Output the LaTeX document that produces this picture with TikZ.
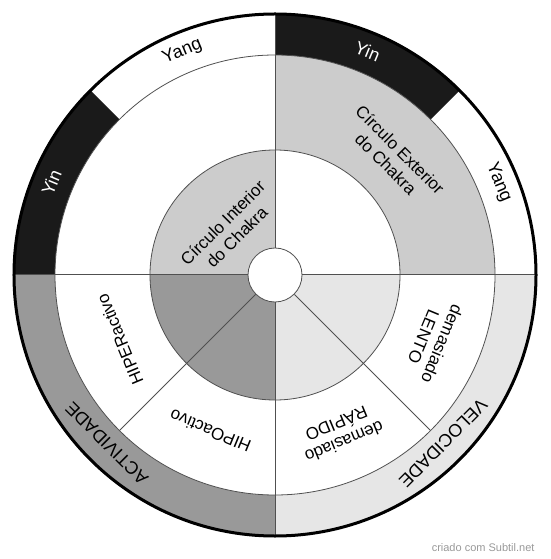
\documentclass[tikz,border=0pt]{standalone}
\usepackage{fontspec}
\setmainfont{Liberation Sans}
\usetikzlibrary{positioning}
\definecolor{chkblack}{RGB}{26,26,26}
\definecolor{chkdark}{RGB}{153,153,153}
\definecolor{chklight}{RGB}{204,204,204}
\definecolor{chkpale}{RGB}{230,230,230}
\definecolor{chkline}{RGB}{80,80,80}

\begin{document}
\begin{tikzpicture}[
    lbl/.style={font=\fontsize{17}{20}\selectfont, align=center, inner sep=0pt},
    yy/.style={lbl, font=\fontsize{18}{20}\selectfont},
    rim/.style={draw=chkline, line width=0.8pt},
    spoke/.style={draw=chkline, line width=1pt},
    hubnode/.style={circle, draw=chkline, line width=0.8pt, fill=white,
                    minimum size=54pt, inner sep=0pt}
]
\useasboundingbox (-275pt,-284pt) rectangle (275pt,275pt);

% outer band, ring and core
\foreach \a/\b/\c in {0/45/white, 45/90/chkblack, 90/135/white, 135/180/chkblack,
                      180/270/chkdark, 270/360/chkpale}
  \fill[\c] (0,0) -- (\a:262pt) arc (\a:\b:262pt) -- cycle;
\foreach \a/\b/\c in {0/90/chklight, 90/360/white}
  \fill[\c] (0,0) -- (\a:220pt) arc (\a:\b:220pt) -- cycle;
\foreach \a/\b/\c in {0/90/white, 90/180/chklight, 180/270/chkdark, 270/360/chkpale}
  \fill[\c] (0,0) -- (\a:125pt) arc (\a:\b:125pt) -- cycle;

\draw[rim] (0,0) circle (125pt);
\draw[rim] (0,0) circle (220pt);

\node[hubnode] (hub) at (0,0) {};
\draw[spoke] (hub.east) -- (0:262pt);
\draw[spoke] (hub.north) -- (90:262pt);
\draw[spoke] (hub.west) -- (180:262pt);
\draw[spoke] (hub.south) -- (270:262pt);
\draw[rim] (hub.225) -- (225:220pt);
\draw[rim] (hub.315) -- (315:220pt);

\draw[black, line width=3pt] (0,0) circle (261pt);

% labels
\node[yy, rotate=22.5] (yangL) at (112.5:242pt) {Yang};
\node[yy, text=white, rotate=67.5] (yinL) at (157.5:242pt) {Yin};
\node[yy, text=white, rotate=-22.5] (yinR) at (67.5:242pt) {Yin};
\node[yy, rotate=-67.5] (yangR) at (22.5:242pt) {Yang};
\node[lbl, rotate=-45] (outerc) at (45:167pt) {Círculo Exterior\\do Chakra};
\node[lbl, rotate=45] (innerc) at (135:64pt) {Círculo Interior\\do Chakra};
\node[lbl, rotate=112.5] (hiper) at (202.5:168pt) {HIPERactivo};
\node[lbl, rotate=157.5] (hipo) at (247.5:169pt) {HIPOactivo};
\node[lbl, rotate=202.5] (rapido) at (292.5:171pt) {demasiado\\RÁPIDO};
\node[lbl, rotate=247.5] (lento) at (337.5:171pt) {demasiado\\LENTO};
\node[yy, rotate=135] (activ) at (225:238pt) {ACTIVIDADE};
\node[yy, rotate=225] (veloc) at (315:238pt) {VELOCIDADE};
\node[font=\fontsize{11}{13}\selectfont, text=chkdark, anchor=base east]
  (credit) at (263pt,-276pt) {criado com Subtil.net};
\end{tikzpicture}
\end{document}
